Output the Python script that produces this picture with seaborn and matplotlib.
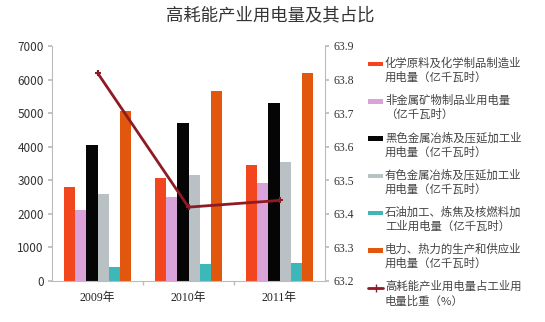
import matplotlib
matplotlib.use("Agg")
import matplotlib.pyplot as plt
import seaborn as sns
import pandas as pd
from matplotlib.lines import Line2D
from matplotlib.patches import Rectangle
from matplotlib.ticker import MultipleLocator

years = ["2009年", "2010年", "2011年"]
series_names = [
    "化学原料及化学制品制造业\n用电量（亿千瓦时）",
    "非金属矿物制品业用电量\n（亿千瓦时）",
    "黑色金属冶炼及压延加工业\n用电量（亿千瓦时）",
    "有色金属冶炼及压延加工业\n用电量（亿千瓦时）",
    "石油加工、炼焦及核燃料加\n工业用电量（亿千瓦时）",
    "电力、热力的生产和供应业\n用电量（亿千瓦时）",
]
chem = [2800, 3070, 3460]
nonmetal = [2120, 2500, 2920]
ferrous = [4060, 4710, 5310]
nonferrous = [2600, 3170, 3550]
petro = [420, 510, 540]
power = [5070, 5670, 6210]
ratio_name = "高耗能产业用电量占工业用\n电量比重（%）"
ratio = [63.82, 63.42, 63.44]

colors = ["#F2461E", "#D9A3D9", "#050505", "#B9C1C4", "#3DB7B7", "#E2570E"]
line_color = "#8E1B24"

sns.set_theme(style="white")
plt.rcParams['font.family'] = ['Noto Sans CJK SC', 'DejaVu Sans']

rows = []
for name, vals in zip(series_names, [chem, nonmetal, ferrous, nonferrous, petro, power]):
    for y, v in zip(years, vals):
        rows.append({"year": y, "series": name, "value": v})
df = pd.DataFrame(rows)

W, H = 545, 322
fig = plt.figure(figsize=(W / 100, H / 100), dpi=100)
ax = fig.add_axes([52/W, 1 - 281/H, 273/W, 235/H])
sns.barplot(data=df, x="year", y="value", hue="series", hue_order=series_names,
            palette=colors, ax=ax, width=0.74, gap=0, saturation=1,
            edgecolor="none", linewidth=0, legend=False)
ax.set_ylim(0, 7000)
ax.set_xlim(-0.5, 2.5)
ax.yaxis.set_major_locator(MultipleLocator(1000))
ax.set_xlabel("")
ax.set_ylabel("")
for s in ["top", "right"]:
    ax.spines[s].set_visible(False)
for s in ["left", "bottom"]:
    ax.spines[s].set_color("#BBBBBB")
    ax.spines[s].set_linewidth(0.8)
ax.tick_params(axis="y", which="both", left=True, length=3, color="#BBBBBB",
               labelsize=8.5, labelcolor="#333333", pad=3)
ax.tick_params(axis="x", length=0, pad=8)
ax.set_xticks([0.5, 1.5], minor=True)
ax.tick_params(axis="x", which="minor", bottom=True, length=3, color="#BBBBBB")
for lab in ax.get_xticklabels():
    lab.set_family(['Liberation Serif', 'Noto Sans CJK SC'])
    lab.set_fontsize(8.5)
    lab.set_color("#222222")

ax2 = ax.twinx()
sns.pointplot(x=years, y=ratio, ax=ax2, color=line_color, markers="+",
              markersize=5, linewidth=2)
ax2.set_ylim(63.2, 63.9)
ax2.set_xlim(-0.5, 2.5)
ax2.yaxis.set_major_locator(MultipleLocator(0.1))
ax2.yaxis.set_major_formatter(matplotlib.ticker.FormatStrFormatter("%.1f"))
for s in ["top", "left", "bottom"]:
    ax2.spines[s].set_visible(False)
ax2.spines["right"].set_color("#BBBBBB")
ax2.spines["right"].set_linewidth(0.8)
ax2.tick_params(axis="y", right=True, length=3, color="#BBBBBB",
                labelsize=8.5, labelcolor="#333333", pad=3)
for lab in ax2.get_yticklabels():
    lab.set_family(['Liberation Serif'])
ax2.set_ylabel("")

fig.suptitle("高耗能产业用电量及其占比", x=270/W, y=1 - 6/H, va="top",
             fontsize=12.5, color="#333333")

# legend (handles aligned with the first line of each label)
y0, pitch = 64, 37.3
labels = series_names + [ratio_name]
for i, lab in enumerate(labels):
    yc = y0 + i * pitch
    if i < len(colors):
        fig.patches.append(Rectangle((368/W, 1 - (yc + 2.2)/H), 15/W, 4.4/H,
                                     transform=fig.transFigure, facecolor=colors[i],
                                     edgecolor="none"))
    else:
        fig.lines.append(Line2D([368/W, 375.5/W, 383/W], [1 - yc/H] * 3,
                                transform=fig.transFigure, color=line_color, lw=2,
                                marker="+", markersize=6, markevery=[1]))
    fig.text(385/W, 1 - (yc - 7)/H, lab, ha="left", va="top", fontsize=8.2,
             color="#444444", linespacing=1.35)

fig.savefig("out.png", dpi=100)
